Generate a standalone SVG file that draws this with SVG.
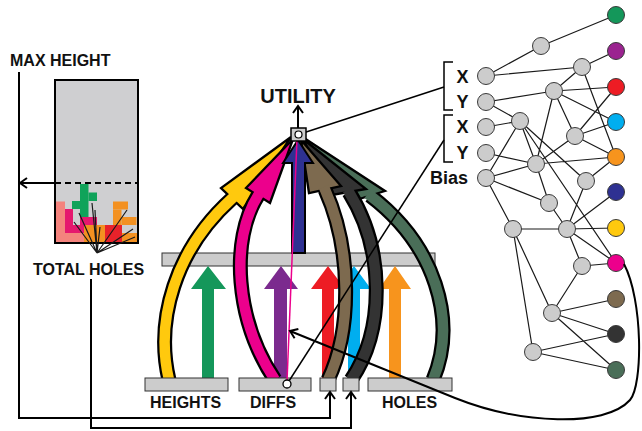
<svg xmlns="http://www.w3.org/2000/svg" width="642" height="431" viewBox="0 0 642 431">
<defs>
<style>
.bar{fill:#cccccc;stroke:#333;stroke-width:1}
.hid{fill:#cccccc;stroke:#3a3a3a;stroke-width:1}
.out{stroke:#3a3a3a;stroke-width:1}
.edge{stroke:#1a1a1a;stroke-width:1.2;fill:none}
.wire{stroke:#000;stroke-width:2;fill:none}
.thin{stroke:#000;stroke-width:1.5;fill:none}
.lbl{font-family:"Liberation Sans",Arial,Helvetica,sans-serif;font-weight:bold;font-size:16px;fill:#111}
.big{font-size:20px}
.io{font-size:18px}
.shadow{fill:none;stroke:#000;stroke-width:15}
.head{stroke:#000;stroke-width:2.3;stroke-linejoin:miter}
.shaft{fill:none;stroke-width:10.5}
</style>
<marker id="vee" viewBox="0 0 12 12" refX="10" refY="6" markerWidth="12" markerHeight="12" markerUnits="userSpaceOnUse" orient="auto">
<path d="M3,1 L10,6 L3,11" fill="none" stroke="#000" stroke-width="2"/>
</marker>
</defs>
<rect width="642" height="431" fill="#fff"/>

<!-- board with stacked pieces -->
<g id="board">
<rect x="55" y="80" width="83" height="163" fill="#cfcfd1" stroke="#000" stroke-width="2"/>
<g stroke="none">
<rect x="56" y="201.5" width="9" height="40.5" fill="#f4837d"/>
<rect x="56" y="233" width="28" height="9" fill="#f4837d"/>
<rect x="65" y="209" width="8" height="24" fill="#e5186e"/>
<rect x="73" y="225" width="11" height="8" fill="#e5186e"/>
<rect x="80" y="217" width="17" height="8.5" fill="#e5186e"/>
<rect x="80" y="184" width="8.5" height="33" fill="#10a35a"/>
<rect x="88.5" y="192.5" width="8.5" height="8.5" fill="#10a35a"/>
<rect x="72" y="201" width="8" height="8" fill="#10a35a"/>
<rect x="113" y="201.5" width="15" height="8" fill="#f39121"/>
<rect x="113" y="209.5" width="8.5" height="15.5" fill="#f39121"/>
<rect x="121.5" y="217" width="15" height="8" fill="#f39121"/>
<rect x="84" y="225" width="21" height="17" fill="#f39121"/>
<rect x="105" y="225" width="17" height="17" fill="#e8222a"/>
<rect x="122" y="233" width="15" height="9" fill="#f39121"/>
</g>
<rect x="55" y="80" width="83" height="163" fill="none" stroke="#000" stroke-width="2"/>
<line x1="55" y1="183" x2="138" y2="183" stroke="#000" stroke-width="2" stroke-dasharray="6 4"/>
<g class="edge" stroke-width="1">
<path d="M97,253 L74,222 M97,253 L79,213 M97,253 L92,203 M97,253 L95,210 M97,253 L100,227 M97,253 L127,210 M97,253 L133,229 M97,253 L135,237"/>
</g>
</g>

<g id="labels">
<text class="lbl" x="10" y="66">MAX HEIGHT</text>
<text class="lbl" x="33" y="275">TOTAL HOLES</text>
<text class="lbl big" x="298" y="103" text-anchor="middle">UTILITY</text>
<text class="lbl" x="150" y="408">HEIGHTS</text>
<text class="lbl" x="250" y="408">DIFFS</text>
<text class="lbl" x="382" y="408">HOLES</text>
<text class="lbl io" x="462.5" y="83" text-anchor="middle">X</text>
<text class="lbl io" x="462.5" y="108" text-anchor="middle">Y</text>
<text class="lbl io" x="462.5" y="133" text-anchor="middle">X</text>
<text class="lbl io" x="462.5" y="159" text-anchor="middle">Y</text>
<text class="lbl io" x="468" y="184" text-anchor="end">Bias</text>
</g>

<!-- feature bars -->
<g id="bar-top"><rect class="bar" x="162" y="253" width="273" height="13"/></g>

<!-- straight feature arrows -->
<g id="arrow-green"><polygon fill="#14975a" points="202,378 202,289 191,289 208,266 226,289 214,289 214,378"/></g>
<g id="arrow-purple"><polygon fill="#7b2a8e" points="274,378 274,289 264,289 281,266 298,289 287,289 287,378"/></g>
<g id="arrow-red"><polygon fill="#ed1c24" points="322,378 322,289 311,289 328,266 345,289 334,289 334,378"/></g>
<g id="arrow-cyan"><polygon fill="#00aeef" points="348,378 348,289 337,289 354,266 371,289 360,289 360,378"/></g>
<g id="arrow-orange"><polygon fill="#f7941d" points="389,378 389,289 379,289 395,266 411,289 401,289 401,378"/></g>

<!-- curved arrows into the utility node -->
<g id="arc-darkgreen">
<path class="shadow" d="M433,380 C458,320 435,245 370,195.5"/>
<polygon class="head" fill="#4a6e58" points="304,138 356,200 385,191"/>
<path class="shaft" stroke="#4a6e58" d="M433,380 C458,320 435,245 370,195.5 l-2.4,-1.8"/>
</g>
<g id="arc-dark">
<path class="shadow" d="M351,380 C385,330 385,250 349,192"/>
<polygon class="head" fill="#333333" points="303,139 332,195 366,189"/>
<path class="shaft" stroke="#333333" d="M351,380 C385,330 385,250 349,192 l-1.6,-2.5"/>
</g>
<g id="arc-brown">
<path class="shadow" d="M328,380 C352,330 352,250 325,189.5"/>
<polygon class="head" fill="#7d6a4f" points="301,140 309,193 341,186"/>
<path class="shaft" stroke="#7d6a4f" d="M328,380 C352,330 352,250 325,189.5 l-1.2,-2.7"/>
</g>
<g id="arc-yellow">
<path class="shadow" d="M169,380 C155,320 175,250 232,198.5"/>
<polygon class="head" fill="#ffc90e" points="291,137 221,188 243,209"/>
<path class="shaft" stroke="#ffc90e" d="M169,380 C155,320 175,250 232,198.5 l2.2,-2"/>
</g>
<g id="arc-pink">
<path class="shadow" d="M275,380 C235,320 230,240 258,195.5"/>
<polygon class="head" fill="#ec008c" points="293,139 246,188 270,203"/>
<path class="shaft" stroke="#ec008c" d="M275,380 C235,320 230,240 258,195.5 l1.6,-2.5"/>
</g>
<g id="arrow-navy">
<polygon fill="#2e3192" stroke="#000" stroke-width="2" points="292,253 292,163 283,163 298,140 313,163 305,163 305,253"/>
</g>

<!-- bottom feature bars -->
<g id="bar-heights"><rect class="bar" x="145" y="378" width="83" height="13"/></g>
<g id="bar-diffs"><rect class="bar" x="239" y="378" width="72" height="13"/></g>
<g id="bar-maxh"><rect class="bar" x="320" y="378" width="16" height="13"/></g>
<g id="bar-holes-total"><rect class="bar" x="343" y="378" width="16" height="13"/></g>
<g id="bar-holes"><rect class="bar" x="368" y="378" width="84" height="13"/></g>

<!-- network -->
<g id="net-edges" class="edge">
<path d="M486,76 L541,46 M541,46 L616,15 M486,76 L582,67 M582,67 L616,51 M582,67 L554,91 M582,67 L616,157
M486,102 L554,91 M486,102 L520,121 M486,127 L520,121 M554,91 L616,87 M554,91 L616,122 M554,91 L575,136 M554,91 L536,164
M520,121 L486,178 M520,121 L536,164 M520,121 L586,181 M520,121 L616,263
M575,136 L616,87 M575,136 L616,122 M575,136 L616,157 M575,136 L536,164
M486,153 L536,164 M486,178 L536,164 M536,164 L616,157 M536,164 L549,203
M486,178 L549,203 M486,178 L513,229 M586,181 L616,157 M586,181 L567,229 M549,203 L567,229
M513,229 L567,229 M513,229 L552,313 M513,229 L533,352
M567,229 L616,192 M567,229 L616,228 M567,229 L616,263 M567,229 L582,266 M582,266 L616,263 M582,266 L552,313
M552,313 L616,299 M552,313 L616,334 M552,313 L616,370 M533,352 L616,334 M533,352 L616,370"/>
</g>
<g id="in-1"><circle class="hid" cx="486" cy="76" r="8.5"/></g>
<g id="in-2"><circle class="hid" cx="486" cy="102" r="8.5"/></g>
<g id="in-3"><circle class="hid" cx="486" cy="127" r="8.5"/></g>
<g id="in-4"><circle class="hid" cx="486" cy="153" r="8.5"/></g>
<g id="in-bias"><circle class="hid" cx="486" cy="178" r="8.5"/></g>
<g id="h-a"><circle class="hid" cx="541" cy="46" r="8.5"/></g>
<g id="h-b"><circle class="hid" cx="582" cy="67" r="8.5"/></g>
<g id="h-c"><circle class="hid" cx="554" cy="91" r="8.5"/></g>
<g id="h-d"><circle class="hid" cx="520" cy="121" r="8.5"/></g>
<g id="h-e"><circle class="hid" cx="575" cy="136" r="8.5"/></g>
<g id="h-f"><circle class="hid" cx="536" cy="164" r="8.5"/></g>
<g id="h-g"><circle class="hid" cx="586" cy="181" r="8.5"/></g>
<g id="h-h"><circle class="hid" cx="549" cy="203" r="8.5"/></g>
<g id="h-i"><circle class="hid" cx="513" cy="229" r="8.5"/></g>
<g id="h-j"><circle class="hid" cx="567" cy="229" r="8.5"/></g>
<g id="h-k"><circle class="hid" cx="582" cy="266" r="8.5"/></g>
<g id="h-l"><circle class="hid" cx="552" cy="313" r="8.5"/></g>
<g id="h-m"><circle class="hid" cx="533" cy="352" r="8.5"/></g>
<g id="out-1"><circle class="out" cx="616" cy="15" r="8.5" fill="#14975a"/></g>
<g id="out-2"><circle class="out" cx="616" cy="51" r="8.5" fill="#9b2390"/></g>
<g id="out-3"><circle class="out" cx="616" cy="87" r="8.5" fill="#ed1c24"/></g>
<g id="out-4"><circle class="out" cx="616" cy="122" r="8.5" fill="#00aeef"/></g>
<g id="out-5"><circle class="out" cx="616" cy="157" r="8.5" fill="#f7941d"/></g>
<g id="out-6"><circle class="out" cx="616" cy="192" r="8.5" fill="#2e3192"/></g>
<g id="out-7"><circle class="out" cx="616" cy="228" r="8.5" fill="#ffc90e"/></g>
<g id="out-8"><circle class="out" cx="616" cy="263" r="8.5" fill="#ec008c"/></g>
<g id="out-9"><circle class="out" cx="616" cy="299" r="8.5" fill="#7d6a4f"/></g>
<g id="out-10"><circle class="out" cx="616" cy="334" r="8.5" fill="#333333"/></g>
<g id="out-11"><circle class="out" cx="616" cy="370" r="8.5" fill="#4a6e58"/></g>

<!-- connectors -->
<g id="connectors">
<path class="wire" d="M19,72 L19,418 L330,418 L330,392" marker-end="url(#vee)"/>
<path class="wire" d="M91,279 L91,428 L351,428 L351,392" marker-end="url(#vee)"/>
<path class="wire" d="M55,183 L20,183" marker-end="url(#vee)"/>
<path class="wire" d="M298,128 L298,106" marker-end="url(#vee)"/>
<path class="thin" d="M453,62 L444,62 L444,110 L453,110 M453,115 L444,115 L444,162 L453,162"/>
<path class="thin" d="M300,134 L444,87"/>
<path class="thin" d="M289,381 L444,140"/>
<path d="M287,381 L297,139" fill="none" stroke="#ec008c" stroke-width="1.5"/>
<path class="wire" d="M624,264 C643,300 643,385 630,400 C605,428 520,424 455,398 L290,331" marker-end="url(#vee)"/>
</g>

<g id="node-utility">
<rect x="291" y="128" width="15" height="13" fill="#cccccc" stroke="#000" stroke-width="1.5"/>
<circle cx="298.5" cy="134.5" r="3.5" fill="#fff" stroke="#000" stroke-width="1.2"/>
</g>
<g id="node-diffs-tap">
<circle cx="287" cy="384" r="4" fill="#fff" stroke="#000" stroke-width="1.3"/>
</g>
</svg>
